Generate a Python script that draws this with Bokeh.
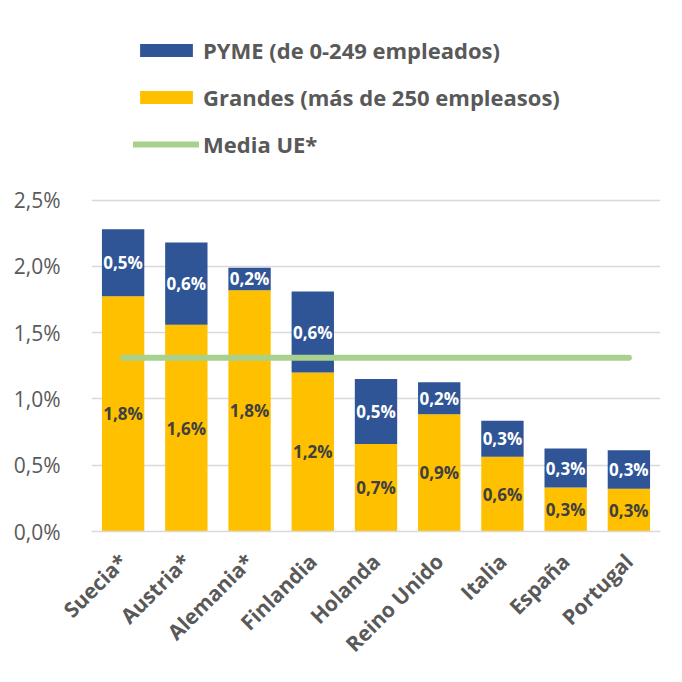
import math
from bokeh.plotting import figure
from bokeh.models import (ColumnDataSource, Range1d, FactorRange, FixedTicker,
                          CustomJSTickFormatter, Legend, LegendItem, LabelSet)
from bokeh.core.properties import value
from bokeh.embed import file_html
from bokeh.resources import INLINE

# ---- data (values in %) ----
paises = ["Suecia*", "Austria*", "Alemania*", "Finlandia", "Holanda",
          "Reino Unido", "Italia", "España", "Portugal"]
grandes = [1.775, 1.56, 1.82, 1.20, 0.66, 0.885, 0.563, 0.332, 0.322]
pyme = [0.505, 0.62, 0.17, 0.61, 0.49, 0.24, 0.272, 0.294, 0.291]
media_ue = 1.31
y_ticks = [0, 0.5, 1.0, 1.5, 2.0, 2.5]

serie_pyme = "PYME (de 0-249 empleados)"
serie_grandes = "Grandes (más de 250 empleasos)"
serie_media = "Media UE*"

def fmt(v):
    return f"{v:.1f}".replace(".", ",") + "%"

total = [g + s for g, s in zip(grandes, pyme)]
src = ColumnDataSource(dict(
    pais=paises, grandes=grandes, pyme=pyme, total=total,
    mid_g=[g / 2 for g in grandes],
    mid_p=[g + s / 2 for g, s in zip(grandes, pyme)],
    lbl_g=[fmt(g) for g in grandes],
    lbl_p=[fmt(s) for s in pyme],
))

BLUE = "#2F5597"
YELLOW = "#FFC000"
GREEN = "#A9D18E"
GREY = "#595959"
FONT = "Open Sans"

p = figure(x_range=FactorRange(factors=paises), y_range=Range1d(0, 3.87),
           frame_width=569, frame_height=513,
           min_border_left=91, min_border_right=14, min_border_top=18,
           min_border_bottom=135,
           output_backend="svg", toolbar_location=None)
p.outline_line_color = None
p.background_fill_color = "white"
p.border_fill_color = "white"

r_g = p.vbar(x="pais", bottom=0, top="grandes", width=0.67, source=src,
             fill_color=YELLOW, line_color=None)
r_p = p.vbar(x="pais", bottom="grandes", top="total", width=0.67, source=src,
             fill_color=BLUE, line_color=None)
r_m = p.line(x=[paises[0], paises[-1]], y=[media_ue, media_ue],
             line_color=GREEN, line_width=6, line_cap="round")

p.add_layout(LabelSet(x="pais", y="mid_p", text="lbl_p", source=src,
                      text_align="center", text_baseline="middle",
                      text_color="white", text_font=value(FONT),
                      text_font_style="bold", text_font_size="17px"))
p.add_layout(LabelSet(x="pais", y="mid_g", text="lbl_g", source=src,
                      text_align="center", text_baseline="middle",
                      text_color="#404040", text_font=value(FONT),
                      text_font_style="bold", text_font_size="17px"))

# axes
p.yaxis.ticker = FixedTicker(ticks=y_ticks)
p.yaxis.formatter = CustomJSTickFormatter(
    code="return tick.toFixed(1).replace('.', ',') + '%';")
p.yaxis.axis_line_color = None
p.yaxis.major_tick_line_color = None
p.yaxis.minor_tick_line_color = None
p.yaxis.major_label_standoff = 25
p.yaxis.major_label_text_font = FONT
p.yaxis.major_label_text_font_size = "21px"
p.yaxis.major_label_text_color = GREY

p.xaxis.axis_line_color = "#D9D9D9"
p.xaxis.axis_line_width = 1.5
p.xaxis.major_tick_line_color = None
p.xaxis.minor_tick_line_color = None
p.xaxis.major_label_orientation = math.pi / 4
p.xaxis.major_label_standoff = 20
p.xaxis.major_label_text_font = FONT
p.xaxis.major_label_text_font_style = "bold"
p.xaxis.major_label_text_font_size = "21px"
p.xaxis.major_label_text_color = GREY

p.xgrid.grid_line_color = None
p.ygrid.grid_line_color = "#D9D9D9"
p.ygrid.grid_line_width = 1.5

legend = Legend(items=[
    LegendItem(label=serie_pyme, renderers=[r_p]),
    LegendItem(label=serie_grandes, renderers=[r_g]),
    LegendItem(label=serie_media, renderers=[r_m]),
], location=(42, 372))
legend.glyph_width = 66
legend.glyph_height = 16
legend.label_height = 22
legend.label_standoff = 4
legend.spacing = 17
legend.padding = 0
legend.margin = 0
legend.border_line_color = None
legend.background_fill_alpha = 0
legend.label_text_font = FONT
legend.label_text_font_style = "bold"
legend.label_text_font_size = "22px"
legend.label_text_color = GREY
p.add_layout(legend)

open("out.html", "w").write(file_html(p, INLINE))
